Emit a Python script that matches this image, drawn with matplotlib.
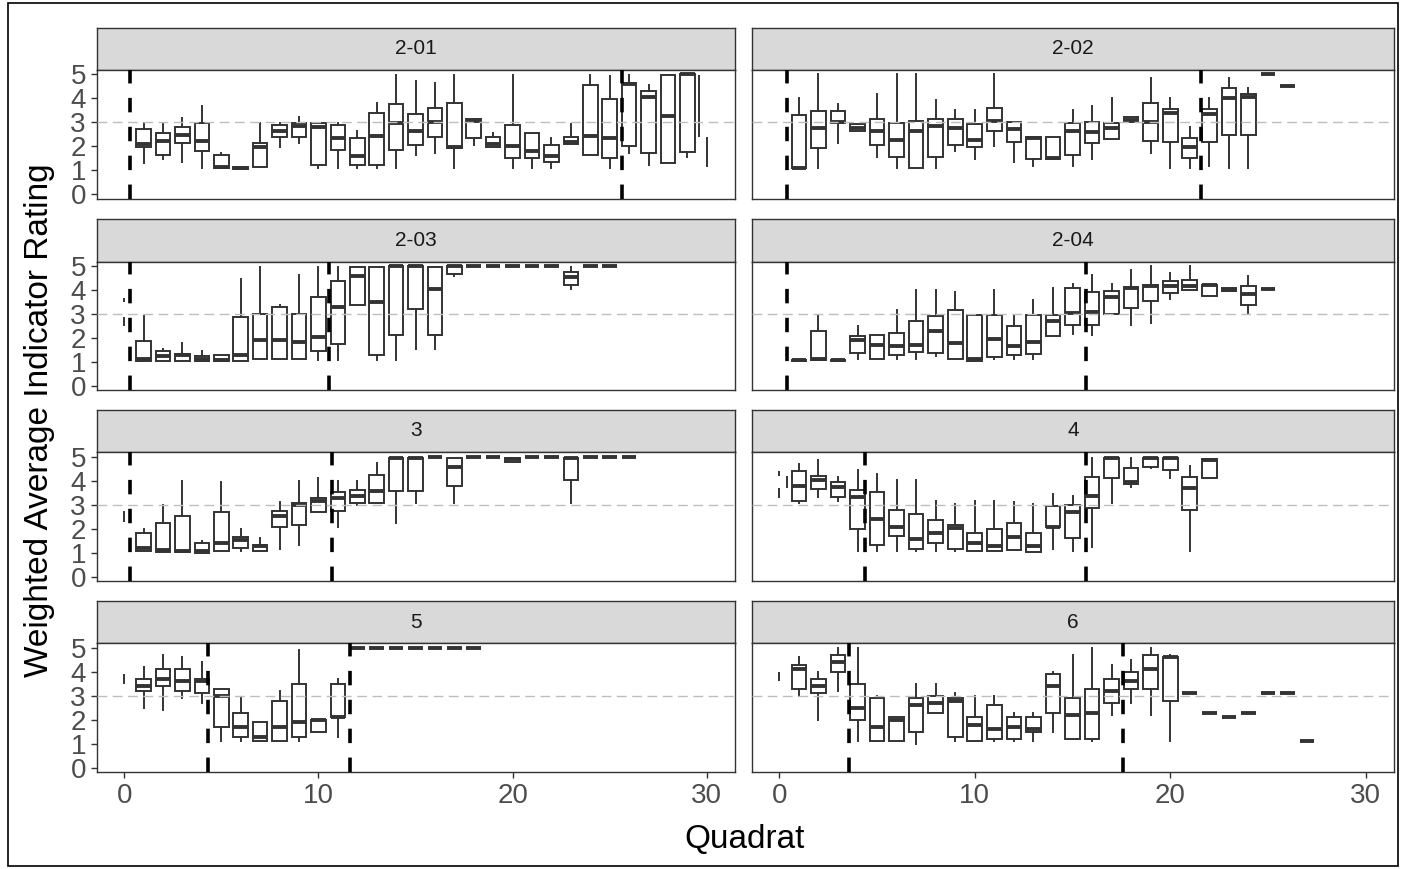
import matplotlib.pyplot as plt
from matplotlib.patches import Rectangle

plt.rcParams['font.family'] = ['Liberation Sans', 'DejaVu Sans']

W, H = 1414, 869

sites = ["2-01", "2-02", "2-03", "2-04", "3", "4", "5", "6"]

# one row per quadrat: (quadrat, whisker low, q1, median, q3, whisker high)
box_2_01 = [
    (1, 1.29, 1.99, 2.10, 2.71, 2.96), (2, 1.46, 1.64, 2.22, 2.57, 2.96),
    (3, 1.36, 2.15, 2.47, 2.82, 3.17), (4, 1.12, 1.82, 2.22, 2.99, 3.68),
    (5, 1.08, 1.08, 1.15, 1.64, 1.71), (6, 1.05, 1.05, 1.10, 1.15, 1.15),
    (7, 1.15, 1.15, 1.96, 2.15, 2.96), (8, 1.96, 2.40, 2.65, 2.89, 2.99),
    (9, 2.12, 2.38, 2.86, 2.96, 3.24), (10, 1.12, 1.21, 2.82, 2.99, 2.99),
    (11, 1.12, 1.85, 2.33, 2.89, 2.96), (12, 1.12, 1.22, 1.60, 2.33, 2.65),
    (13, 1.12, 1.21, 2.43, 3.40, 3.82), (14, 1.12, 1.85, 2.96, 3.75, 4.97),
    (15, 1.64, 2.06, 2.64, 3.33, 4.74), (16, 1.74, 2.40, 3.03, 3.58, 4.65),
    (17, 1.12, 1.92, 1.98, 3.82, 4.97), (18, 2.06, 2.33, 3.06, 3.12, 3.12),
    (19, 1.99, 1.99, 2.10, 2.38, 2.57), (20, 1.12, 1.50, 2.01, 2.89, 4.97),
    (21, 1.12, 1.50, 1.82, 2.57, 2.57), (22, 1.12, 1.36, 1.60, 2.06, 2.33),
    (23, 2.08, 2.08, 2.19, 2.38, 2.93), (24, 1.64, 1.64, 2.43, 4.56, 4.97),
    (25, 1.12, 1.50, 2.33, 3.96, 4.93), (26, 1.74, 2.01, 4.60, 4.63, 4.97),
    (27, 1.22, 1.74, 4.04, 4.32, 4.56), (28, 1.32, 1.32, 3.26, 4.97, 4.97),
    (29, 1.57, 1.78, 5.00, 5.00, 5.00),
]
box_2_02 = [
    (1, 1.08, 1.08, 1.12, 3.31, 4.00), (2, 1.12, 1.92, 2.75, 3.49, 5.00),
    (3, 2.15, 2.96, 3.00, 3.49, 3.76), (4, 2.64, 2.64, 2.78, 2.92, 2.92),
    (5, 1.54, 2.06, 2.64, 3.12, 4.18), (6, 1.12, 1.57, 2.26, 2.99, 5.00),
    (7, 1.12, 1.12, 2.64, 3.07, 5.00), (8, 1.12, 1.54, 2.86, 3.14, 3.93),
    (9, 1.82, 2.06, 2.78, 3.14, 3.51), (10, 1.46, 1.96, 2.26, 2.93, 3.51),
    (11, 2.01, 2.65, 3.07, 3.58, 5.00), (12, 1.36, 2.19, 2.72, 3.00, 3.00),
    (13, 1.18, 1.46, 2.36, 2.40, 2.40), (14, 1.47, 1.47, 1.50, 2.40, 2.40),
    (15, 1.18, 1.64, 2.62, 2.99, 3.51), (16, 1.46, 2.15, 2.61, 3.00, 3.68),
    (17, 2.31, 2.31, 2.78, 2.96, 4.00), (18, 3.03, 3.03, 3.10, 3.21, 3.21),
    (19, 1.71, 2.24, 3.03, 3.82, 4.83), (20, 1.12, 2.17, 3.40, 3.56, 4.00),
    (21, 1.12, 1.50, 1.96, 2.36, 2.82), (22, 1.18, 2.17, 3.35, 3.56, 4.00),
    (23, 1.12, 2.47, 4.03, 4.42, 4.83), (24, 1.12, 2.47, 4.07, 4.17, 4.42),
    (25, 5.00, 5.00, 5.00, 5.00, 5.00), (26, 4.50, 4.50, 4.50, 4.50, 4.50),
]
box_2_03 = [
    (1, 1.04, 1.04, 1.15, 1.90, 2.93), (2, 1.04, 1.04, 1.26, 1.46, 1.54),
    (3, 1.04, 1.04, 1.29, 1.36, 1.82), (4, 1.04, 1.04, 1.15, 1.26, 1.46),
    (5, 1.04, 1.04, 1.12, 1.29, 1.29), (6, 1.04, 1.04, 1.29, 2.89, 4.46),
    (7, 1.15, 1.15, 1.92, 3.03, 4.97), (8, 1.15, 1.15, 1.92, 3.31, 3.40),
    (9, 1.15, 1.15, 1.85, 3.03, 4.65), (10, 1.12, 1.46, 2.06, 3.72, 4.97),
    (11, 1.12, 1.76, 3.29, 4.40, 4.97), (12, 3.38, 3.38, 4.60, 4.97, 4.97),
    (13, 1.12, 1.29, 3.51, 4.97, 4.97), (14, 1.12, 2.15, 5.00, 5.00, 5.00),
    (15, 1.54, 3.24, 5.00, 5.00, 5.00), (16, 1.54, 2.13, 4.04, 4.97, 4.97),
    (17, 4.60, 4.68, 5.00, 5.00, 5.00), (18, 5.00, 5.00, 5.00, 5.00, 5.00),
    (19, 5.00, 5.00, 5.00, 5.00, 5.00), (20, 5.00, 5.00, 5.00, 5.00, 5.00),
    (21, 5.00, 5.00, 5.00, 5.00, 5.00), (22, 5.00, 5.00, 5.00, 5.00, 5.00),
    (23, 4.04, 4.21, 4.56, 4.76, 4.97), (24, 5.00, 5.00, 5.00, 5.00, 5.00),
    (25, 5.00, 5.00, 5.00, 5.00, 5.00),
]
box_2_04 = [
    (1, 1.05, 1.05, 1.10, 1.12, 1.12), (2, 1.11, 1.11, 1.15, 2.32, 2.99),
    (3, 1.05, 1.05, 1.10, 1.12, 1.12), (4, 1.15, 1.39, 1.94, 2.11, 2.53),
    (5, 1.15, 1.15, 1.74, 2.15, 2.15), (6, 1.15, 1.32, 1.67, 2.22, 3.19),
    (7, 1.15, 1.43, 1.74, 2.74, 4.03), (8, 1.25, 1.39, 2.29, 2.92, 4.03),
    (9, 1.15, 1.15, 1.81, 3.17, 3.93), (10, 1.07, 1.07, 1.15, 2.99, 2.99),
    (11, 1.15, 1.21, 1.99, 2.99, 4.03), (12, 1.15, 1.32, 1.67, 2.50, 2.96),
    (13, 1.15, 1.35, 1.85, 2.96, 3.61), (14, 2.11, 2.11, 2.74, 2.99, 4.10),
    (15, 2.18, 2.54, 3.06, 4.10, 4.26), (16, 2.15, 2.57, 3.10, 3.92, 4.63),
    (17, 3.01, 3.01, 3.72, 3.96, 4.26), (18, 2.57, 3.26, 4.10, 4.14, 4.86),
    (19, 2.64, 3.57, 4.17, 4.24, 5.00), (20, 3.65, 3.89, 4.17, 4.40, 4.72),
    (21, 4.03, 4.03, 4.17, 4.44, 5.00), (22, 3.75, 3.75, 4.21, 4.24, 4.24),
    (23, 3.97, 3.97, 4.03, 4.08, 4.08), (24, 3.01, 3.40, 3.85, 4.17, 4.58),
    (25, 4.06, 4.06, 4.06, 4.06, 4.06),
]
box_3 = [
    (1, 1.08, 1.08, 1.22, 1.83, 2.00), (2, 1.03, 1.03, 1.13, 2.24, 2.98),
    (3, 1.03, 1.03, 1.06, 2.52, 4.00), (4, 0.99, 0.99, 1.08, 1.40, 1.50),
    (5, 1.08, 1.08, 1.40, 2.69, 3.96), (6, 1.08, 1.20, 1.54, 1.68, 2.00),
    (7, 1.08, 1.08, 1.27, 1.34, 1.62), (8, 1.15, 2.08, 2.55, 2.76, 3.12),
    (9, 1.31, 2.15, 3.00, 3.08, 4.00), (10, 2.69, 2.69, 3.18, 3.29, 4.10),
    (11, 2.06, 2.76, 3.27, 3.53, 4.00), (12, 2.99, 3.09, 3.37, 3.60, 4.00),
    (13, 3.09, 3.09, 3.58, 4.23, 4.76), (14, 2.25, 3.58, 4.97, 4.97, 4.97),
    (15, 3.06, 3.56, 4.97, 4.97, 4.97), (16, 5.00, 5.00, 5.00, 5.00, 5.00),
    (17, 3.08, 3.78, 4.58, 4.94, 4.94), (18, 5.00, 5.00, 5.00, 5.00, 5.00),
    (19, 5.00, 5.00, 5.00, 5.00, 5.00), (20, 4.80, 4.80, 4.90, 4.97, 4.97),
    (21, 5.00, 5.00, 5.00, 5.00, 5.00), (22, 5.00, 5.00, 5.00, 5.00, 5.00),
    (23, 3.08, 4.02, 4.94, 4.94, 4.94), (24, 5.00, 5.00, 5.00, 5.00, 5.00),
    (25, 5.00, 5.00, 5.00, 5.00, 5.00), (26, 5.00, 5.00, 5.00, 5.00, 5.00),
]
box_4 = [
    (1, 3.09, 3.18, 3.78, 4.39, 4.72), (2, 3.32, 3.65, 4.02, 4.20, 4.86),
    (3, 3.16, 3.32, 3.74, 3.97, 4.16), (4, 1.06, 2.01, 3.32, 3.60, 4.44),
    (5, 1.06, 1.34, 2.42, 3.55, 4.30), (6, 1.06, 1.69, 2.07, 2.77, 4.02),
    (7, 1.09, 1.17, 1.59, 2.60, 4.02), (8, 1.06, 1.41, 1.83, 2.35, 3.18),
    (9, 1.06, 1.17, 2.04, 2.15, 3.02), (10, 1.09, 1.09, 1.41, 1.83, 3.16),
    (11, 1.09, 1.09, 1.27, 2.01, 3.16), (12, 1.13, 1.13, 1.65, 2.25, 3.13),
    (13, 1.03, 1.03, 1.27, 1.83, 3.04), (14, 1.17, 2.07, 2.07, 2.95, 3.44),
    (15, 1.06, 1.62, 2.72, 3.00, 3.37), (16, 1.23, 2.85, 3.37, 4.16, 4.97),
    (17, 3.09, 4.10, 4.97, 4.97, 4.97), (18, 3.74, 3.88, 3.97, 4.53, 4.94),
    (19, 4.53, 4.58, 4.97, 4.97, 4.97), (20, 4.10, 4.44, 4.97, 4.97, 4.97),
    (21, 1.06, 2.77, 3.72, 4.16, 4.62), (22, 4.10, 4.10, 4.86, 4.90, 4.90),
]
box_5 = [
    (1, 2.50, 3.20, 3.40, 3.70, 4.20), (2, 2.40, 3.40, 3.70, 4.10, 4.70),
    (3, 2.90, 3.20, 3.60, 4.10, 4.60), (4, 2.70, 3.10, 3.60, 3.70, 4.40),
    (5, 1.10, 1.70, 3.00, 3.30, 3.30), (6, 1.10, 1.30, 1.70, 2.30, 2.90),
    (7, 1.10, 1.10, 1.30, 1.90, 1.90), (8, 1.10, 1.10, 1.70, 2.80, 3.20),
    (9, 1.10, 1.30, 1.90, 3.50, 4.90), (10, 1.50, 1.50, 2.00, 2.00, 2.00),
    (11, 1.30, 2.10, 2.10, 3.50, 3.70), (12, 5.00, 5.00, 5.00, 5.00, 5.00),
    (13, 5.00, 5.00, 5.00, 5.00, 5.00), (14, 5.00, 5.00, 5.00, 5.00, 5.00),
    (15, 5.00, 5.00, 5.00, 5.00, 5.00), (16, 5.00, 5.00, 5.00, 5.00, 5.00),
    (17, 5.00, 5.00, 5.00, 5.00, 5.00), (18, 5.00, 5.00, 5.00, 5.00, 5.00),
]
box_6 = [
    (1, 3.00, 3.30, 4.10, 4.30, 4.60), (2, 2.00, 3.10, 3.40, 3.70, 4.00),
    (3, 3.20, 4.00, 4.40, 4.70, 5.00), (4, 1.10, 2.00, 2.50, 3.50, 5.00),
    (5, 1.10, 1.10, 1.70, 2.90, 3.00), (6, 1.10, 1.10, 2.00, 2.10, 2.10),
    (7, 1.00, 1.50, 2.60, 2.90, 3.50), (8, 2.30, 2.30, 2.70, 3.00, 3.50),
    (9, 1.10, 1.30, 2.80, 2.90, 3.10), (10, 1.10, 1.10, 1.80, 2.10, 3.00),
    (11, 1.10, 1.20, 1.60, 2.60, 3.00), (12, 1.10, 1.20, 1.70, 2.10, 2.30),
    (13, 1.10, 1.50, 1.60, 2.10, 2.30), (14, 1.50, 2.30, 3.40, 3.90, 4.00),
    (15, 1.20, 1.20, 2.20, 2.90, 4.70), (16, 1.10, 1.20, 2.30, 3.30, 5.00),
    (17, 2.20, 2.70, 3.20, 3.70, 4.30), (18, 2.70, 3.30, 3.60, 4.00, 4.50),
    (19, 2.20, 3.30, 4.10, 4.70, 5.00), (20, 1.10, 2.80, 4.60, 4.60, 4.70),
    (21, 3.10, 3.10, 3.10, 3.10, 3.10), (22, 2.30, 2.30, 2.30, 2.30, 2.30),
    (23, 2.10, 2.10, 2.10, 2.10, 2.10), (24, 2.30, 2.30, 2.30, 2.30, 2.30),
    (25, 3.10, 3.10, 3.10, 3.10, 3.10), (26, 3.10, 3.10, 3.10, 3.10, 3.10),
    (27, 1.10, 1.10, 1.10, 1.10, 1.10),
]

# stray thin marks: (quadrat, low, high)
thin_2_01 = [(29.6, 2.40, 4.97), (30.0, 1.15, 2.40)]
thin_2_02 = []
thin_2_03 = [(0.0, 3.50, 3.70), (0.0, 2.50, 2.90)]
thin_2_04 = []
thin_3 = [(0.0, 2.30, 2.75)]
thin_4 = [(0.0, 4.20, 4.40), (0.0, 3.30, 3.70), (0.37, 3.70, 4.20)]
thin_5 = [(0.0, 3.50, 3.90)]
thin_6 = [(0.0, 3.60, 4.00)]

# zone breaks (dashed verticals)
breaks_2_01 = [0.31, 25.65]
breaks_2_02 = [0.40, 21.6]
breaks_2_03 = [0.31, 10.53]
breaks_2_04 = [0.40, 15.69]
breaks_3 = [0.31, 10.7]
breaks_4 = [4.37, 15.69]
breaks_5 = [4.3, 11.65]
breaks_6 = [3.57, 17.6]

boxes = [box_2_01, box_2_02, box_2_03, box_2_04, box_3, box_4, box_5, box_6]
thins = [thin_2_01, thin_2_02, thin_2_03, thin_2_04, thin_3, thin_4, thin_5, thin_6]
breaks = [breaks_2_01, breaks_2_02, breaks_2_03, breaks_2_04, breaks_3, breaks_4,
          breaks_5, breaks_6]

EDGE = '#333333'


def px_axes(fig, x0, y0, x1, y1):
    return fig.add_axes([x0 / W, 1 - y1 / H, (x1 - x0) / W, (y1 - y0) / H])


fig = plt.figure(figsize=(W / 100, H / 100), dpi=100)

col_x = [(97, 735), (752, 1394)]
row_top = [69.5, 261.5, 452, 643]
plot_h = 129
strip_h = 42

for i, name in enumerate(sites):
    r, c = divmod(i, 2)
    x0, x1 = col_x[c]
    top = row_top[r]

    # strip
    sax = px_axes(fig, x0, top - strip_h, x1, top)
    sax.set_facecolor('#D9D9D9')
    sax.set_xticks([])
    sax.set_yticks([])
    for sp in sax.spines.values():
        sp.set_color(EDGE)
        sp.set_linewidth(1.0)
    sax.text(0.5, 0.5, name, ha='center', va='center', fontsize=15,
             color='#1A1A1A', transform=sax.transAxes)

    ax = px_axes(fig, x0, top, x1, top + plot_h)
    rows = boxes[i]
    stats = [dict(med=m, q1=a, q3=b, whislo=lo, whishi=hi, fliers=[])
             for _, lo, a, m, b, hi in rows]
    ax.bxp(stats, positions=[row[0] for row in rows], widths=0.75,
           showcaps=False, showfliers=False, patch_artist=True,
           boxprops=dict(facecolor='white', edgecolor=EDGE, linewidth=1.4),
           medianprops=dict(color=EDGE, linewidth=2.8, solid_capstyle='butt'),
           whiskerprops=dict(color=EDGE, linewidth=1.4), manage_ticks=False)
    for q, lo, hi in thins[i]:
        ax.vlines(q, lo, hi, color=EDGE, linewidth=1.4)

    ax.axhline(3, color='#BEBEBE', linewidth=1.0, dashes=(7, 4), zorder=4)
    for b in breaks[i]:
        ax.axvline(b, color='black', linewidth=2.6, dashes=(4, 4), zorder=5)

    ax.set_xlim(-1.4, 31.45)
    ax.set_ylim(-0.17, 5.2)
    for sp in ax.spines.values():
        sp.set_color(EDGE)
        sp.set_linewidth(1.0)

    ax.set_yticks(range(6))
    ax.set_xticks([0, 10, 20, 30])
    ax.tick_params(axis='both', colors=EDGE, length=4, width=1.0,
                   labelcolor='#4D4D4D', labelsize=20, pad=4)
    if c == 1:
        ax.tick_params(axis='y', left=False, labelleft=False)
    if r < 3:
        ax.tick_params(axis='x', bottom=False, labelbottom=False)

fig.text(40 / W, 1 - 420 / H, 'Weighted Average Indicator Rating', rotation=90,
         ha='center', va='center', fontsize=24, color='black')
fig.text(745 / W, 1 - 840 / H, 'Quadrat', ha='center', va='center',
         fontsize=24, color='black')

fig.patches.append(Rectangle((8 / W, 3 / H), 1390 / W, 863 / H, transform=fig.transFigure,
                             fill=False, edgecolor='black', linewidth=1.2))

fig.savefig('out.png', dpi=100)
